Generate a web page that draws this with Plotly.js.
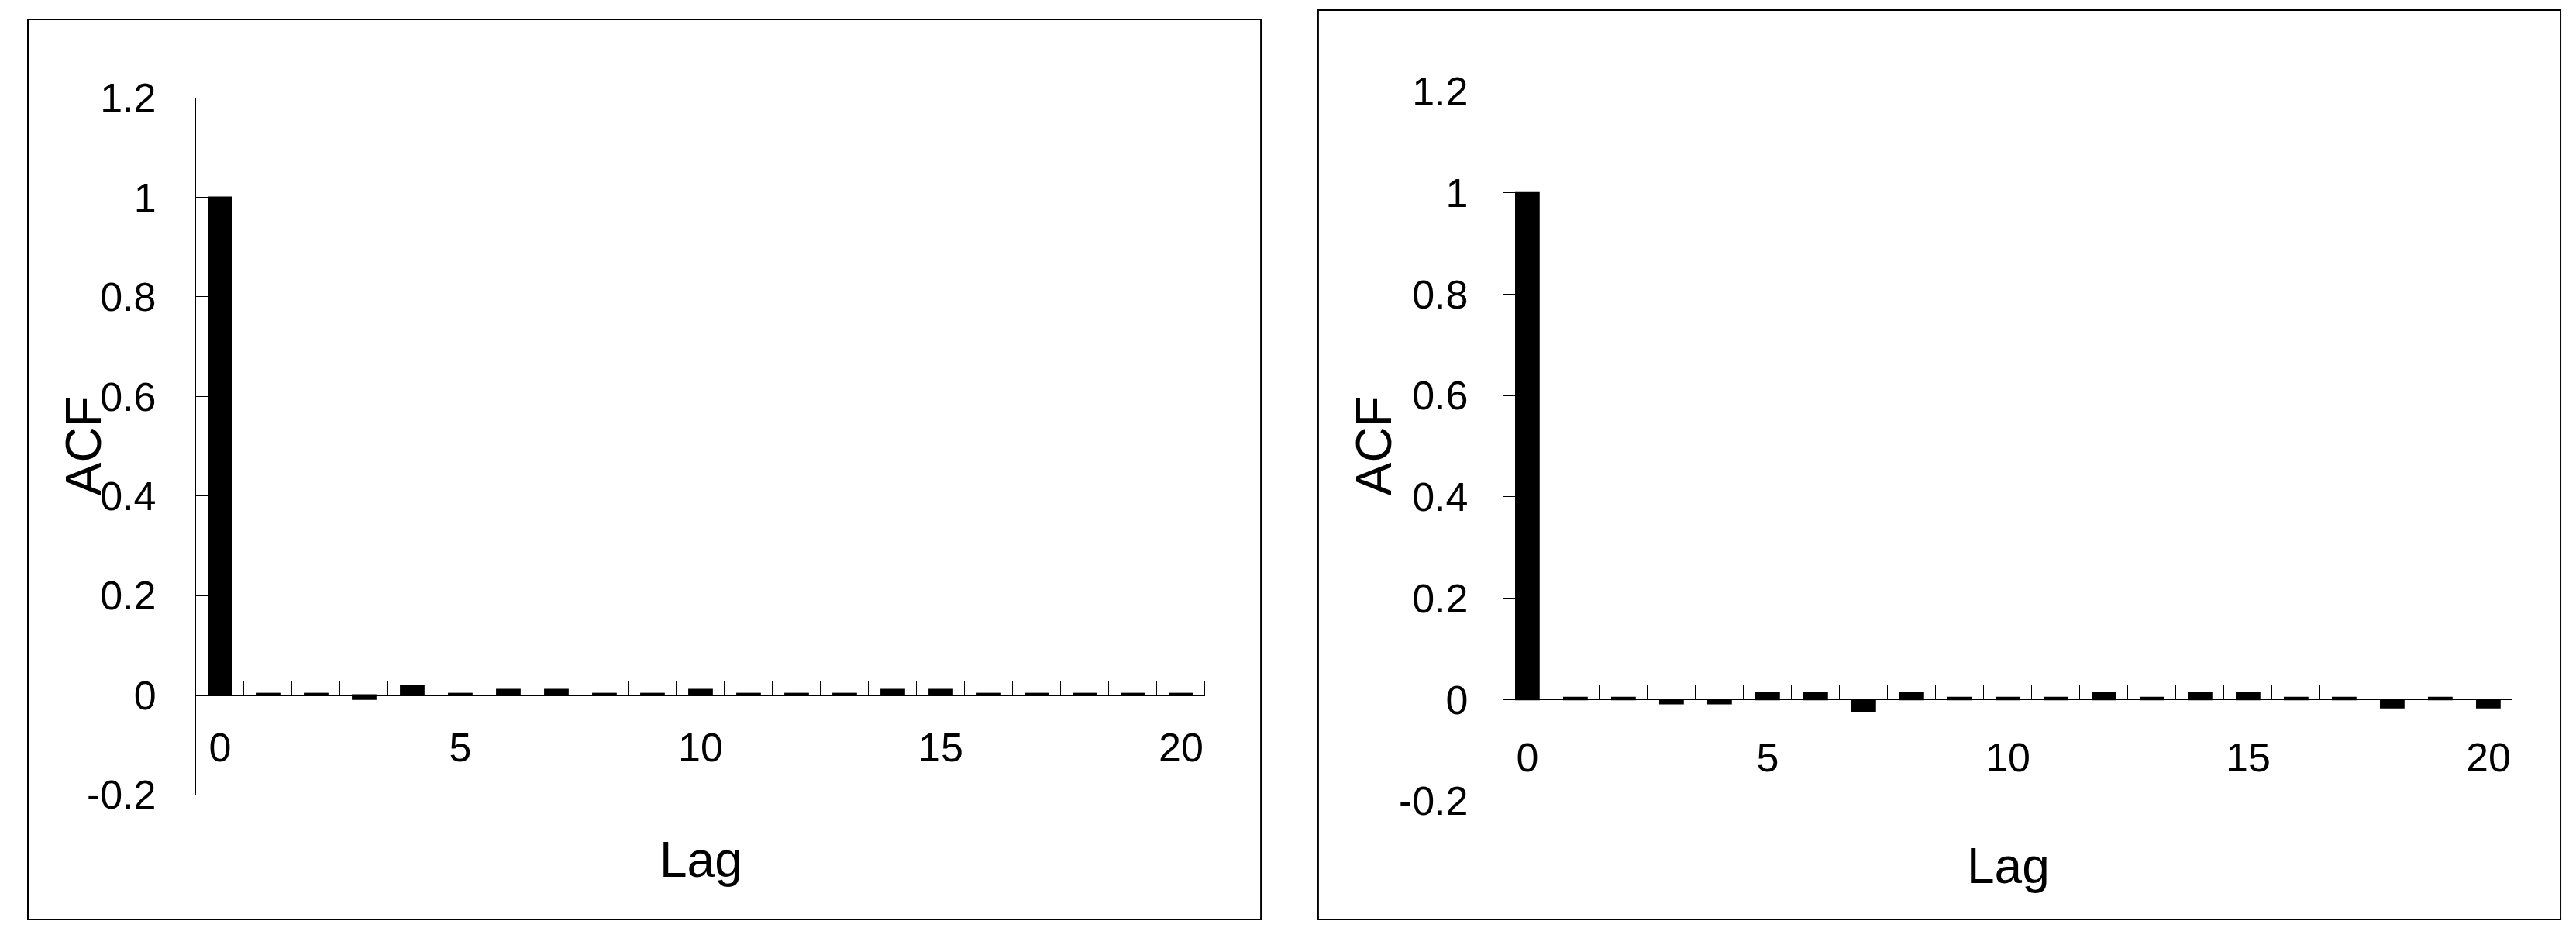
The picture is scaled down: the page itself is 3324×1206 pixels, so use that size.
<!DOCTYPE html>
<html>
<head>
<meta charset="utf-8">
<script src="https://cdn.plot.ly/plotly-3.0.1.min.js"></script>
<style>
  html, body { margin: 0; padding: 0; background: #ffffff; }
  #chart { width: 3324px; height: 1206px; }
</style>
</head>
<body>
<div id="chart"></div>
<script>
// lags 0..20 and the two ACF series
const lags = [0, 1, 2, 3, 4, 5, 6, 7, 8, 9, 10, 11, 12, 13, 14, 15, 16, 17, 18, 19, 20];
const acfLeft = [1, 0.003, 0.003, -0.008, 0.019, 0.003, 0.011, 0.011, 0.003, 0.003, 0.011,
                 0.003, 0.003, 0.003, 0.011, 0.011, 0.003, 0.003, 0.003, 0.003, 0.003];
const acfRight = [1, 0.004, 0.004, -0.008, -0.008, 0.013, 0.013, -0.024, 0.013, 0.004, 0.004,
                  0.004, 0.013, 0.004, 0.013, 0.013, 0.004, 0.004, -0.016, 0.004, -0.016];

const yTickVals = [-0.2, 0, 0.2, 0.4, 0.6, 0.8, 1, 1.2];
const yTickText = ["-0.2", "0", "0.2", "0.4", "0.6", "0.8", "1", "1.2"];
const xTickVals = [0, 5, 10, 15, 20];
const xTickText = ["0", "5", "10", "15", "20"];
const yRange = [-0.2, 1.2];
const xRange = [-0.5, 20.5];

const FONT = "Liberation Sans, Arial, sans-serif";

// where y = 0 sits inside a y domain, so the x axis line crosses there
function zeroPos(dom) {
    return dom[0] + (0 - yRange[0]) / (yRange[1] - yRange[0]) * (dom[1] - dom[0]);
}

function bars(y, xa, ya) {
    return {
        x: lags, y: y, type: 'bar',
        xaxis: xa, yaxis: ya,
        marker: { color: '#000000', line: { color: '#000000', width: 2 } },
        hoverinfo: 'x+y',
        showlegend: false
    };
}

function xAxis(dom, ydom, standoff) {
    return {
        domain: dom, range: xRange, anchor: 'free', position: zeroPos(ydom),
        showline: true, linecolor: '#000000', linewidth: 2,
        showgrid: false, zeroline: false,
        tickmode: 'array', tickvals: xTickVals, ticktext: xTickText,
        ticks: '', ticklabelstandoff: standoff,
        tickfont: { family: FONT, size: 52, color: '#000000' },
        minor: {
            tickmode: 'array', tickvals: lags.map(l => l + 0.5),
            ticks: 'inside', ticklen: 17, tickwidth: 1, tickcolor: '#000000',
            showgrid: false
        },
        fixedrange: true
    };
}

function yAxis(dom, xa, standoff) {
    return {
        domain: dom, range: yRange, anchor: xa,
        showline: true, linecolor: '#000000', linewidth: 1,
        showgrid: false, zeroline: false,
        tickmode: 'array', tickvals: yTickVals, ticktext: yTickText,
        ticks: 'inside', ticklen: 17, tickwidth: 1, tickcolor: '#000000',
        ticklabelstandoff: standoff,
        tickfont: { family: FONT, size: 52, color: '#000000' },
        fixedrange: true
    };
}

const yDomL = [0.1501, 0.8955];
const yDomR = [0.1434, 0.9022];

const data = [
    bars(acfLeft, 'x', 'y'),
    bars(acfRight, 'x2', 'y2')
];

function title(text, x, y, angle) {
    return {
        text: text, x: x, y: y, xref: 'paper', yref: 'paper',
        showarrow: false, textangle: angle, xanchor: 'center', yanchor: 'middle',
        font: { family: FONT, size: 64, color: '#000000' }
    };
}

function frame(x0, x1, y0, y1) {
    return {
        type: 'rect', xref: 'paper', yref: 'paper',
        x0: x0, x1: x1, y0: y0, y1: y1,
        line: { color: '#000000', width: 2 }, fillcolor: 'rgba(0,0,0,0)'
    };
}

const layout = {
    width: 3324, height: 1206,
    margin: { l: 0, r: 0, t: 0, b: 0 },
    paper_bgcolor: '#ffffff', plot_bgcolor: '#ffffff',
    bargap: 0.52,
    xaxis: xAxis([0.0761, 0.4678], yDomL, 22),
    yaxis: yAxis(yDomL, 'x', 40),
    xaxis2: xAxis([0.5836, 0.9753], yDomR, 29),
    yaxis2: yAxis(yDomR, 'x2', 34),
    annotations: [
        title('ACF', 0.0325, 0.523, -90),
        title('Lag', 0.272, 0.0804, 0),
        title('ACF', 0.5334, 0.523, -90),
        title('Lag', 0.7795, 0.0738, 0)
    ],
    shapes: [
        frame(0.01083, 0.4895, 0.01658, 0.97927),
        frame(0.5117, 0.994, 0.01658, 0.98922)
    ]
};

Plotly.newPlot('chart', data, layout, { staticPlot: true });
</script>
</body>
</html>
